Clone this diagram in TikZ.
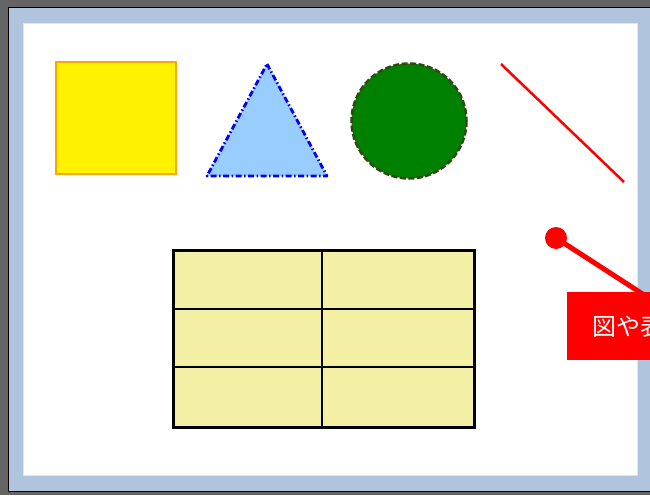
\documentclass[tikz,border=0pt]{standalone}
\usepackage{fontspec}
\newfontfamily\cjk{Noto Sans CJK JP}
\definecolor{framegray}{HTML}{646464}
\definecolor{frameblue}{HTML}{B0C4DE}
\definecolor{inneredge}{HTML}{DDE6F5}
\definecolor{sqorange}{HTML}{FFA500}
\definecolor{trifill}{HTML}{99CCFF}
\definecolor{circgreen}{HTML}{008000}
\definecolor{circedge}{HTML}{2E4A10}
\definecolor{tabfill}{HTML}{F3EFA5}
\begin{document}
\begin{tikzpicture}[x=1pt,y=-1pt,
  tabline/.style={draw=black,line width=2.5pt},
  callred/.style={red}]
\useasboundingbox (0,0) rectangle (650,495);
\clip (0,0) rectangle (650,495);
% frame
\fill[framegray] (0,0) rectangle (650,495);
\filldraw[fill=frameblue,draw=black,line width=1pt] (8,8) rectangle (670,491);
\filldraw[fill=white,draw=inneredge,line width=1pt] (23,24) rectangle (637,475);
% square
\filldraw[fill=yellow,draw=sqorange,line width=2.5pt] (56,62) rectangle (176,174);
% triangle
\filldraw[fill=trifill,draw=blue,line width=2.8pt,line join=round,
  dash pattern=on 6pt off 2.5pt on 1.5pt off 2.5pt]
  (267,64) -- (327,176) -- (207,176) -- cycle;
% circle
\filldraw[fill=circgreen,draw=circedge,line width=2.5pt,dash pattern=on 6pt off 2.5pt]
  (409,121) circle (57.5);
% red line
\draw[red,line width=2.5pt] (501,64) -- (624,182);
% table
\node[tabline,fill=tabfill,minimum width=301pt,minimum height=177pt,anchor=north west,inner sep=0] (tab) at (172,249) {};
\draw[tabline] (322,249) -- (322,426);
\draw[tabline] (172,309) -- (473,309);
\draw[tabline] (172,367) -- (473,367);
% callout
\node[circle,fill=red,minimum size=22pt,inner sep=0] (dot) at (556,238) {};
\coordinate (lineend) at (655,302);
\draw[red,line width=5pt] (dot.center) -- (lineend);
\node[fill=red,anchor=north west,minimum height=68pt,inner xsep=25pt,inner ysep=0pt,
  text=white,font=\cjk\fontsize{24}{24}\selectfont] (box) at (567,292) {図や表を挿入};
\end{tikzpicture}
\end{document}
